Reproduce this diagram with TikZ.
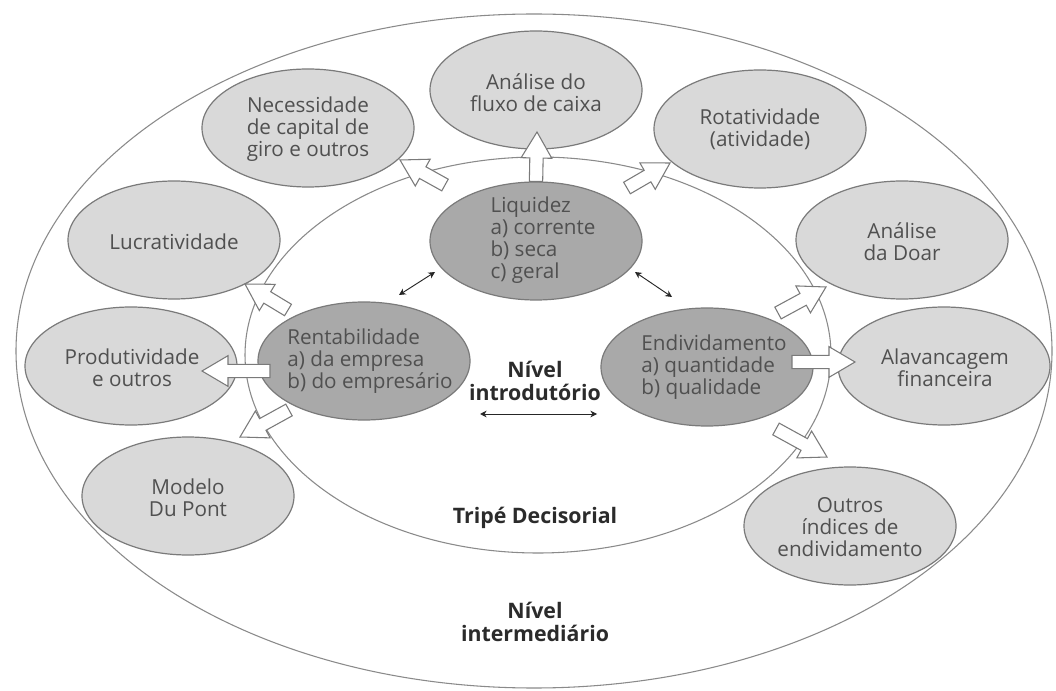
\documentclass[tikz,border=0pt]{standalone}
\usepackage{fontspec}
\setmainfont{Open Sans}
\usetikzlibrary{positioning,arrows.meta,calc,shapes.geometric}
\definecolor{outfill}{HTML}{D9D9D9}
\definecolor{cenfill}{HTML}{A9A9A9}
\definecolor{edgec}{HTML}{7A7A7A}
\definecolor{ringc}{HTML}{8A8A8A}
\definecolor{txtc}{HTML}{505050}
\definecolor{lblc}{HTML}{2B2B2B}
\newcommand{\blockarr}[2]{%
  \filldraw[fill=white, draw=edgec, line width=0.8pt, line join=miter]
    ($(#1)!5pt!90:(#2)$) --
    ($(#2)!19.5pt!(#1)!5pt!90:(#2)$) --
    ($(#2)!19.5pt!(#1)!11.5pt!90:(#2)$) --
    (#2) --
    ($(#2)!19.5pt!(#1)!11.5pt!-90:(#2)$) --
    ($(#2)!19.5pt!(#1)!5pt!-90:(#2)$) --
    ($(#1)!5pt!-90:(#2)$) -- cycle;}

\begin{document}
\begin{tikzpicture}[x=0.75pt, y=-0.75pt,
  txt/.style={font=\fontsize{15.5}{16.5}\selectfont, text=txtc, align=center, inner sep=0pt},
  ctxt/.style={txt, align=left},
  lbl/.style={font=\fontsize{16}{17.25}\selectfont\bfseries, text=lblc, align=center, inner sep=0pt},
  ring/.style={ellipse, draw=ringc, line width=0.8pt, inner sep=0pt},
  outv/.style={ellipse, draw=edgec, line width=0.9pt, fill=outfill, minimum width=159pt, minimum height=88.5pt, inner sep=0pt},
  cenv/.style={outv, fill=cenfill},
  dblarr/.style={{Stealth[length=5pt,width=5pt]}-{Stealth[length=5pt,width=5pt]}, line width=0.7pt, draw=black!85}
]
\useasboundingbox[fill=white] (0,0) rectangle (1056,691);

\node[ring, minimum width=777pt, minimum height=505.5pt] (intm) at (534,351) {};
\node[ring, minimum width=439.5pt, minimum height=297pt] (tripe) at (538,355) {};

\node[outv] (nec) at (308,128) {};
\node[outv] (flx) at (536,90) {};
\node[outv] (rot) at (760,129) {};
\node[outv] (luc) at (174,240) {};
\node[outv] (doar) at (902,240) {};
\node[outv] (prod) at (131,366) {};
\node[outv] (alav) at (944,366) {};
\node[outv] (dup) at (188,496) {};
\node[outv] (outr) at (850,526) {};
\node[cenv] (liq) at (536,241) {};
\node[cenv] (rent) at (364,361) {};
\node[cenv] (endv) at (707,367) {};

\node[txt] (necT) at (308,129) {Necessidade\\de capital de\\giro e outros};
\node[txt] (flxT) at (536,93) {Análise do\\fluxo de caixa};
\node[txt] (rotT) at (760,129) {Rotatividade\\(atividade)};
\node[txt] (lucT) at (174,242) {Lucratividade};
\node[txt] (doarT) at (902,242) {Análise\\da Doar};
\node[txt] (prodT) at (132,368) {Produtividade\\e outros};
\node[txt] (alavT) at (945,368) {Alavancagem\\financeira};
\node[txt] (dupT) at (188,498) {Modelo\\Du Pont};
\node[txt] (outrT) at (850,527) {Outros\\índices de\\endividamento};
\node[ctxt] (liqT) at (543,240) {Liquidez\\a) corrente\\b) seca\\c) geral};
\node[ctxt] (rentT) at (370,361) {Rentabilidade\\a) da empresa\\b) do empresário};
\node[ctxt] (endvT) at (714,367) {Endividamento\\a) quantidade\\b) qualidade};

\coordinate (a1) at (537,132);
\coordinate (s2) at (445,185);
\coordinate (a2) at (400,160);
\coordinate (s3) at (627,188);
\coordinate (a3) at (670,163);
\coordinate (s4) at (288,310);
\coordinate (a4) at (245,284);
\coordinate (s5) at (270,371);
\coordinate (a5) at (202,371);
\coordinate (s6) at (289,410);
\coordinate (a6) at (240,437);
\coordinate (s7) at (778,313);
\coordinate (a7) at (826,287);
\coordinate (s8) at (792,362);
\coordinate (a8) at (855,362);
\coordinate (s9) at (776,429);
\coordinate (a9) at (827,457);
\blockarr{liq.north}{a1}
\blockarr{s2}{a2}
\blockarr{s3}{a3}
\blockarr{s4}{a4}
\blockarr{s5}{a5}
\blockarr{s6}{a6}
\blockarr{s7}{a7}
\blockarr{s8}{a8}
\blockarr{s9}{a9}

\coordinate (d1) at (399,295);
\coordinate (d2) at (435,272);
\coordinate (d3) at (635,272);
\coordinate (d4) at (672,297);
\coordinate (d5) at (480,414);
\coordinate (d6) at (597,414);
\draw[dblarr] (d1) -- (d2);
\draw[dblarr] (d3) -- (d4);
\draw[dblarr] (d5) -- (d6);

\node[lbl] (intro) at (535,381) {Nível\\introdutório};
\node[lbl] (tripeL) at (535,518) {Tripé Decisorial};
\node[lbl] (intmL) at (535,622) {Nível\\intermediário};

\end{tikzpicture}
\end{document}
